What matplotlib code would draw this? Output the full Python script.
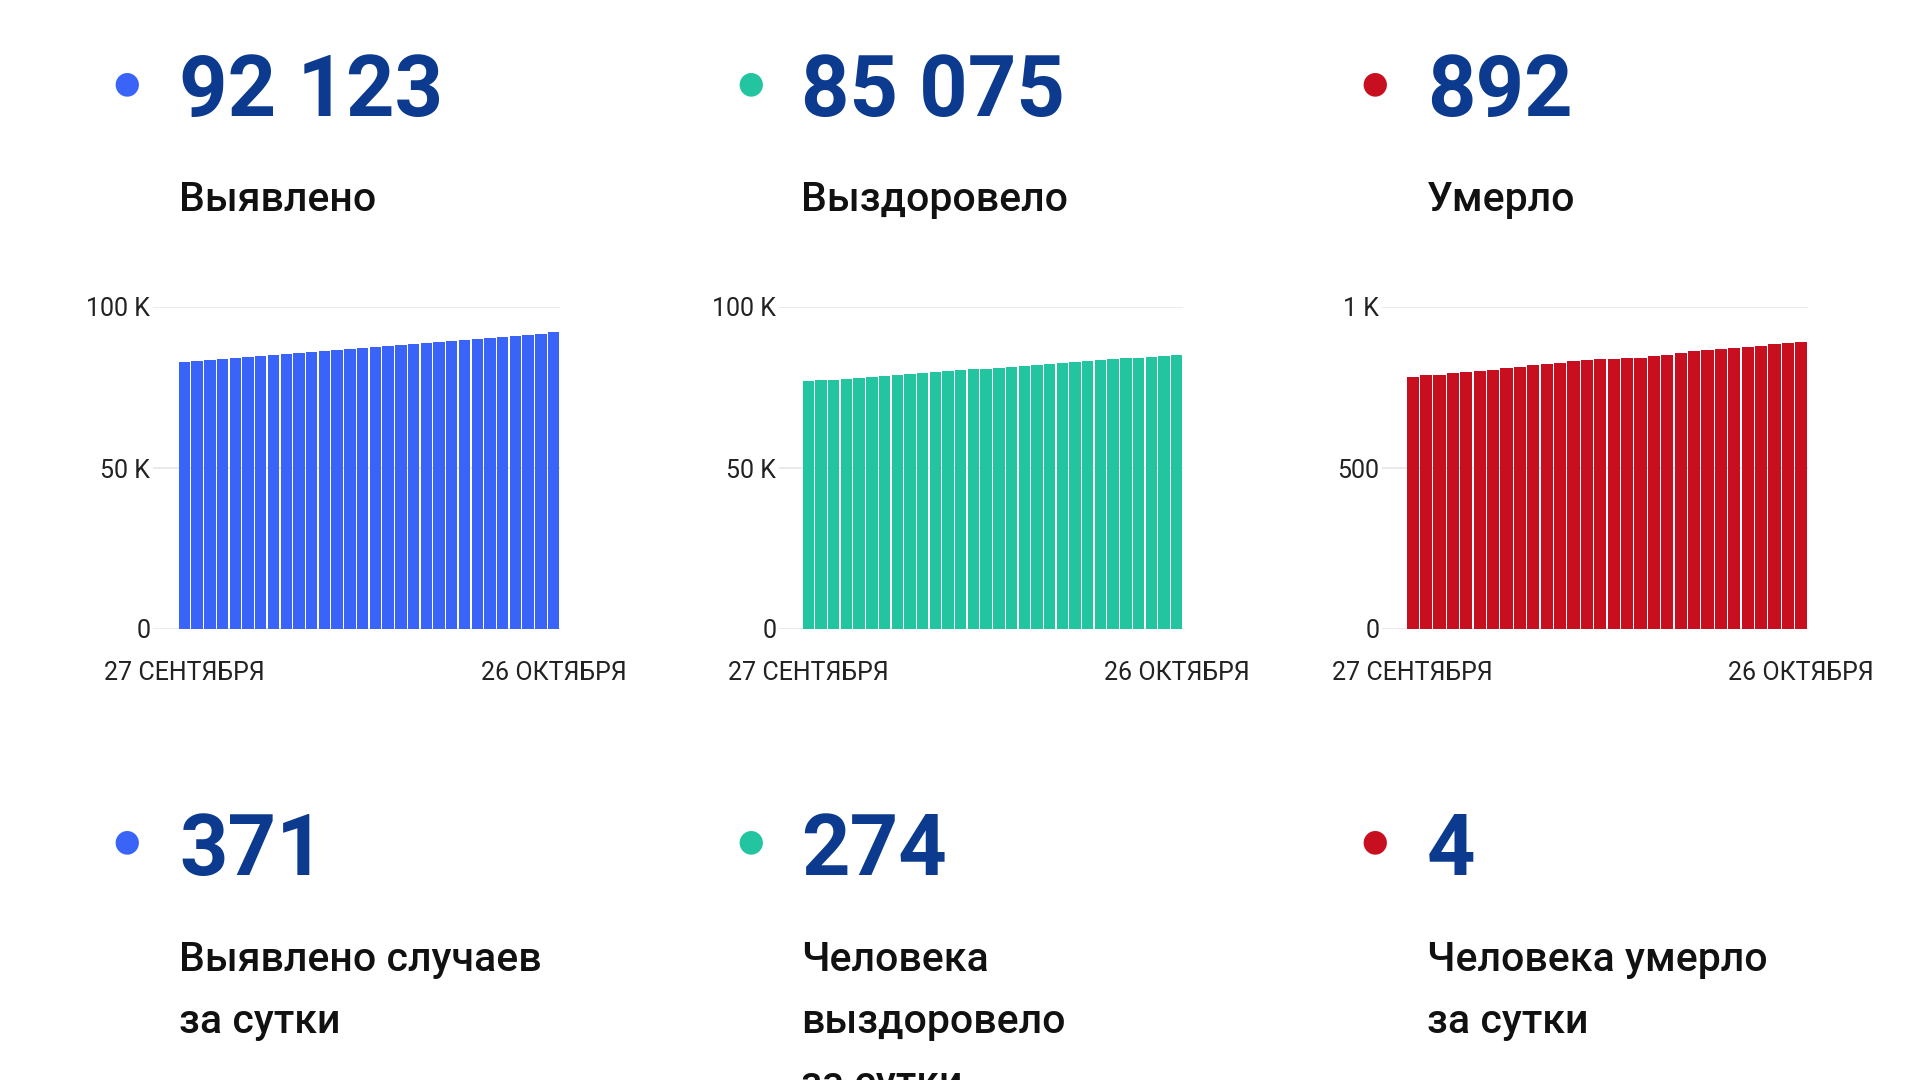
import matplotlib.pyplot as plt
from matplotlib.ticker import FixedLocator

plt.rcParams['font.family'] = ['Roboto', 'DejaVu Sans']

# cumulative values, 27 Sep .. 26 Oct (30 days)
detected = [82900, 83210, 83530, 83840, 84150, 84460, 84770, 85080, 85390, 85700,
            86010, 86320, 86630, 86940, 87250, 87560, 87870, 88180, 88490, 88800,
            89110, 89420, 89730, 90040, 90350, 90660, 90980, 91350, 91752, 92123]
recovered = [76900, 77190, 77480, 77760, 78050, 78330, 78620, 78900, 79190, 79470,
             79760, 80040, 80330, 80610, 80900, 81180, 81470, 81750, 82040, 82320,
             82610, 82890, 83180, 83460, 83750, 84030, 84250, 84520, 84801, 85075]
died = [782, 788, 790, 794, 797, 801, 805, 811, 815, 820,
        822, 826, 831, 835, 839, 840, 841, 843, 848, 852,
        858, 864, 867, 870, 873, 877, 880, 884, 888, 892]

date_labels = ['27 СЕНТЯБРЯ', '26 ОКТЯБРЯ']

totals = ['92 123', '85 075', '892']
total_titles = ['Выявлено', 'Выздоровело', 'Умерло']
daily = ['371', '274', '4']
daily_titles = [['Выявлено случаев', 'за сутки'],
                ['Человека', 'выздоровело', 'за сутки'],
                ['Человека умерло', 'за сутки']]

y_ticks = [[0, 50000, 100000], [0, 50000, 100000], [0, 500, 1000]]
y_ticklabels = [['0', '50 K', '100 K'], ['0', '50 K', '100 K'], ['0', '500', '1 K']]

colors = ['#3a63f8', '#22c59f', '#c80f20']
num_color = '#0b3a8e'

W, H = 1920, 1080
fig = plt.figure(figsize=(19.2, 10.8), dpi=100)
fig.patch.set_facecolor('white')

# chart boxes in pixels: (grid start, bars end)
boxes = [(153, 560), (779, 1183), (1382, 1808)]
bar_start = [178, 802, 1406]
top_px, bottom_px = 307, 629
text_x = [179, 801, 1427]
dot_x = [127, 751, 1375]

series = [detected, recovered, died]

for i in range(3):
    x0, x1 = boxes[i]
    ax = fig.add_axes([x0 / W, 1 - bottom_px / H, (x1 - x0) / W, (bottom_px - top_px) / H])
    vals = series[i]
    n = len(vals)
    slot = (x1 - bar_start[i]) / n
    extra = (bar_start[i] - x0) / slot
    ax.bar(range(n), vals, width=0.9, color=colors[i], zorder=3)
    ax.set_xlim(-0.5 - extra, n - 0.5)
    ax.set_ylim(0, y_ticks[i][-1])
    ax.yaxis.set_major_locator(FixedLocator(y_ticks[i]))
    ax.set_yticklabels(y_ticklabels[i])
    ax.set_xticks([0, n - 1])
    ax.set_xticklabels(date_labels)
    ax.tick_params(axis='both', length=0, labelsize=18, colors='#222222')
    ax.tick_params(axis='x', pad=23)
    ax.tick_params(axis='y', pad=2)
    ax.grid(axis='y', color='#e8e8e8', linewidth=1.3, zorder=0)
    ax.grid(axis='x', visible=False)
    for s in ax.spines.values():
        s.set_visible(False)
    ax.set_facecolor('none')

    # top row: totals
    fig.text(text_x[i] / W, 1 - 116 / H, totals[i], fontsize=61, fontweight='bold',
             color=num_color, va='baseline', ha='left')
    fig.text(text_x[i] / W, 1 - 211 / H, total_titles[i], fontsize=29.5, fontweight='medium',
             color='#111111', va='baseline', ha='left')
    fig.text(dot_x[i] / W, 1 - 84 / H, '●', fontsize=22, color=colors[i],
             va='center', ha='center', family='DejaVu Sans')

    # bottom row: daily
    fig.text(text_x[i] / W, 1 - 875 / H, daily[i], fontsize=61, fontweight='bold',
             color=num_color, va='baseline', ha='left')
    for k, line in enumerate(daily_titles[i]):
        fig.text(text_x[i] / W, 1 - (971 + 62 * k) / H, line, fontsize=29.5,
                 fontweight='medium', color='#111111', va='baseline', ha='left')
    fig.text(dot_x[i] / W, 1 - 842 / H, '●', fontsize=22, color=colors[i],
             va='center', ha='center', family='DejaVu Sans')

fig.savefig('out.png', dpi=100, facecolor='white')
